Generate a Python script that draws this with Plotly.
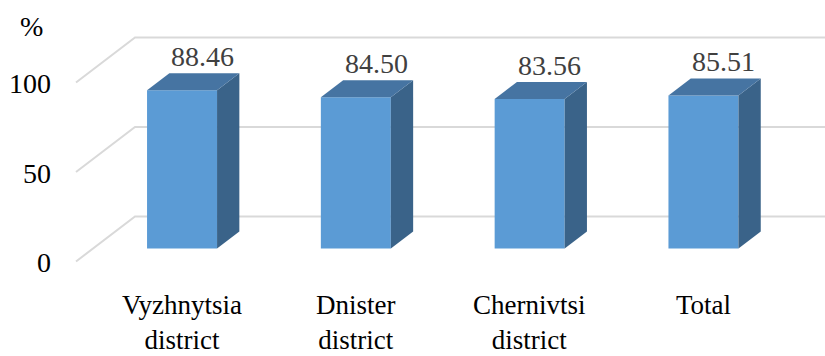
import plotly.graph_objects as go

categories = ["Vyzhnytsia<br>district", "Dnister<br>district", "Chernivtsi<br>district", "Total"]
values = [88.46, 84.50, 83.56, 85.51]
tick_values = [0, 50, 100]
tick_labels = ["0", "50", "100"]
axis_title = "%"

# ---- layout / projection constants (pixels -> data units) ----
W, H = 825, 356
PX_PER_CAT = 173.8
PX_PER_VAL = 1.79
X0_PX = 165.0      # pixel x of category 0 on front floor plane
Y0_PX = 261.5      # pixel y of value 0 on front floor plane
DX = 59 / PX_PER_CAT     # full depth offset (category units)
DY = 45 / PX_PER_VAL     # full depth offset (value units)
D_FRONT, D_BACK = 0.289, 0.667
HALF = 70 / PX_PER_CAT / 2
X_LEFT = (76 - X0_PX) / PX_PER_CAT

xr_range = [-X0_PX / PX_PER_CAT, (W - X0_PX) / PX_PER_CAT]
yr_range = [(Y0_PX - H) / PX_PER_VAL, Y0_PX / PX_PER_VAL]

FONT = "Times New Roman, Liberation Serif, DejaVu Serif, serif"
FRONT_C, TOP_C, SIDE_C = "#5B9BD5", "#4674A2", "#3A6389"
GRID_C = "#D9D9D9"

fig = go.Figure()

# gridlines (below everything)
shapes = []
for g in tick_values:
    path = (f"M {X_LEFT} {g} L {X_LEFT + DX} {g + DY} L {xr_range[1] + 1} {g + DY}")
    shapes.append(dict(type="path", path=path, xref="x", yref="y", layer="below",
                       line=dict(color=GRID_C, width=2)))

xs = list(range(len(categories)))
base = D_FRONT * DY
xf = [i + D_FRONT * DX for i in xs]
fig.add_trace(go.Bar(x=xf, y=values, base=base, width=2 * HALF,
                     marker=dict(color=FRONT_C, line=dict(width=0)),
                     hoverinfo="skip", showlegend=False))

ddx = (D_BACK - D_FRONT) * DX
ddy = (D_BACK - D_FRONT) * DY
for i, v in zip(xs, values):
    xl = xf[i] - HALF
    xr = xf[i] + HALF
    top = base + v
    # side face
    fig.add_trace(go.Scatter(
        x=[xr, xr, xr + ddx, xr + ddx, xr],
        y=[base, top, top + ddy, base + ddy, base],
        mode="lines", fill="toself", fillcolor=SIDE_C,
        line=dict(width=0, color=SIDE_C), hoverinfo="skip", showlegend=False))
    # top face
    fig.add_trace(go.Scatter(
        x=[xl, xr, xr + ddx, xl + ddx, xl],
        y=[top, top, top + ddy, top + ddy, top],
        mode="lines", fill="toself", fillcolor=TOP_C,
        line=dict(width=0, color=TOP_C), hoverinfo="skip", showlegend=False))

annotations = []
# value labels
for i, v in zip(xs, values):
    annotations.append(dict(x=xf[i] + ddx, y=base + v + ddy, text=f"{v:.2f}",
                            xref="x", yref="y", showarrow=False, xanchor="center",
                            yanchor="bottom", yshift=-1, xshift=-2,
                            font=dict(family=FONT, size=28, color="#404040")))
# tick labels
for g, t in zip(tick_values, tick_labels):
    annotations.append(dict(x=X_LEFT, y=g, text=t, xref="x", yref="y", showarrow=False,
                            xanchor="right", yanchor="middle", xshift=-23, yshift=-1,
                            font=dict(family=FONT, size=28, color="#000000")))
# axis title
annotations.append(dict(x=X_LEFT, y=tick_values[-1], text=axis_title, xref="x", yref="y",
                        showarrow=False, xanchor="center", yanchor="middle",
                        xshift=-45, yshift=56,
                        font=dict(family=FONT, size=28, color="#000000")))
# category labels
for i, c in zip(xs, categories):
    annotations.append(dict(x=xf[i], y=0, text=c, xref="x", yref="y", showarrow=False,
                            xanchor="center", yanchor="top", yshift=-26,
                            font=dict(family=FONT, size=27, color="#000000")))

fig.update_layout(
    width=W, height=H, margin=dict(l=0, r=0, t=0, b=0),
    paper_bgcolor="white", plot_bgcolor="white",
    font=dict(family=FONT),
    xaxis=dict(range=xr_range, visible=False, fixedrange=True),
    yaxis=dict(range=yr_range, visible=False, fixedrange=True),
    shapes=shapes, annotations=annotations, barmode="overlay",
)

fig.write_html("out.html")
